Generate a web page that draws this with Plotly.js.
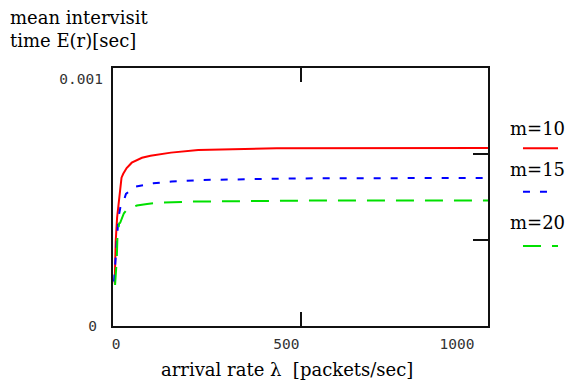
<!DOCTYPE html>
<html>
<head>
<meta charset="utf-8">
<script src="https://cdn.plot.ly/plotly-3.0.1.min.js"></script>
<style>html,body{margin:0;padding:0;background:#fff;}#chart{width:569px;height:385px;}</style>
</head>
<body>
<div id="chart"></div>
<script>
// ---- data ----
var seriesNames = ['m=10', 'm=15', 'm=20'];

var lamM10 = [5, 8, 12, 18, 25, 30, 40, 55, 70, 85, 110, 135, 170, 250, 480, 1100];
var eM10   = [0.000165, 0.000330, 0.000420, 0.000500, 0.000575, 0.000590, 0.000612, 0.000633,
              0.000643, 0.000652, 0.000660, 0.000665, 0.000672, 0.000682, 0.000689, 0.000690];

var lamM15 = [3, 7, 11, 16, 22, 30, 38, 65, 118, 172, 265, 400, 530, 1100];
var eM15   = [0.000172, 0.000260, 0.000333, 0.000420, 0.000463, 0.000478, 0.000512, 0.000540,
              0.000553, 0.000560, 0.000566, 0.000570, 0.000572, 0.000574];

var lamM20 = [6, 11, 13, 18, 21, 32, 40, 55, 70, 100, 133, 226, 548, 1100];
var eM20   = [0.000159, 0.000256, 0.000346, 0.000398, 0.000400, 0.000437, 0.000450, 0.000460,
              0.000467, 0.000473, 0.000478, 0.000482, 0.000486, 0.000486];

var xTickVals = [0, 500, 1000];
var xTickText = ['0', '500', '1000'];
var yTickValsLow = [0];
var yTickTextLow = ['0'];
var yTickValsHigh = [0.001];
var yTickTextHigh = ['0.001'];
var xGridTicks = [0, 550, 1100];
var yGridTicks = [0, 0.000333, 0.000667, 0.001];

var yTitleText = 'mean intervisit<br>time E(r)[sec]';
var xTitleText = 'arrival rate \u03bb&nbsp; [packets/sec]';

// ---- chart ----
var serif = '"DejaVu Serif", "Liberation Serif", serif';
var mono = '"DejaVu Sans Mono", monospace';
var colors = ['#ff0000', '#0000ff', '#00e000'];
var dashes = ['solid', '7px,10px', '18px,11px'];

var traces = [
  {x: lamM10, y: eM10, name: seriesNames[0], mode: 'lines', line: {color: colors[0], width: 2, dash: dashes[0]}},
  {x: lamM15, y: eM15, name: seriesNames[1], mode: 'lines', line: {color: colors[1], width: 2, dash: dashes[1]}},
  {x: lamM20, y: eM20, name: seriesNames[2], mode: 'lines', line: {color: colors[2], width: 2, dash: dashes[2]}},
  {x: [null], y: [null], xaxis: 'x2', yaxis: 'y2', mode: 'lines', showlegend: false, hoverinfo: 'skip'},
  {x: [null], y: [null], xaxis: 'x', yaxis: 'y3', mode: 'lines', showlegend: false, hoverinfo: 'skip'}
];

var axisLine = '#111';
var legendLineStart = 1.0933;
var legendLineEnd = [1.1867, 1.1573, 1.1867];
var legendLineY = [0.6888, 0.5205, 0.3101];
var legendTextY = [0.7655, 0.6085, 0.4019];

var annotations = [
  {text: yTitleText, xref: 'paper', yref: 'paper', x: -0.2800, y: 1.150, xanchor: 'left', yanchor: 'middle', align: 'left', showarrow: false, font: {family: serif, size: 18, color: '#000'}},
  {text: xTitleText, xref: 'paper', yref: 'paper', x: 0.4627, y: -0.1705, xanchor: 'center', yanchor: 'middle', showarrow: false, font: {family: serif, size: 18, color: '#000'}}
];
var shapes = [];
for (var i = 0; i < seriesNames.length; i++) {
  annotations.push({text: seriesNames[i], xref: 'paper', yref: 'paper', x: 1.1333, y: legendTextY[i],
    xanchor: 'center', yanchor: 'middle', showarrow: false, font: {family: serif, size: 18, color: '#000'}});
  shapes.push({type: 'line', xref: 'paper', yref: 'paper', x0: legendLineStart, x1: legendLineEnd[i],
    y0: legendLineY[i], y1: legendLineY[i], line: {color: colors[i], width: 2, dash: dashes[i]}});
}

var tickFont = {family: mono, size: 14.5, color: '#333'};

var layout = {
  width: 569, height: 385,
  margin: {l: 113, r: 81, t: 68, b: 59, pad: 0},
  paper_bgcolor: '#fff', plot_bgcolor: '#fff',
  showlegend: false,
  xaxis: {
    range: [0, 1100], tickvals: xTickVals, ticktext: xTickText, ticks: '',
    showline: true, mirror: true, linecolor: axisLine, linewidth: 2,
    showgrid: false, zeroline: false, ticklabelstandoff: 4, ticklabelshift: 3,
    tickfont: tickFont
  },
  yaxis: {
    range: [0, 0.001], tickvals: yTickValsLow, ticktext: yTickTextLow, ticks: '',
    showline: true, mirror: true, linecolor: axisLine, linewidth: 2,
    showgrid: false, zeroline: false, ticklabelstandoff: 11, ticklabelshift: 0,
    tickfont: tickFont
  },
  yaxis3: {
    overlaying: 'y', side: 'left', anchor: 'x', range: [0, 0.001], tickvals: yTickValsHigh, ticktext: yTickTextHigh,
    ticks: '', showline: false, showgrid: false, zeroline: false, ticklabelstandoff: 9, ticklabelshift: 11,
    tickfont: tickFont
  },
  xaxis2: {
    overlaying: 'x', anchor: 'y2', range: [0, 1100], tickvals: xGridTicks, ticks: 'inside', ticklen: 14,
    tickwidth: 2, tickcolor: axisLine, showticklabels: false, showline: false, mirror: 'ticks',
    showgrid: false, zeroline: false
  },
  yaxis2: {
    overlaying: 'y', side: 'right', anchor: 'x2', range: [0, 0.001], tickvals: yGridTicks, ticks: 'inside',
    ticklen: 15, tickwidth: 2, tickcolor: axisLine, showticklabels: false, showline: false,
    showgrid: false, zeroline: false
  },
  annotations: annotations,
  shapes: shapes
};

Plotly.newPlot('chart', traces, layout, {staticPlot: true, displayModeBar: false});
</script>
</body>
</html>
